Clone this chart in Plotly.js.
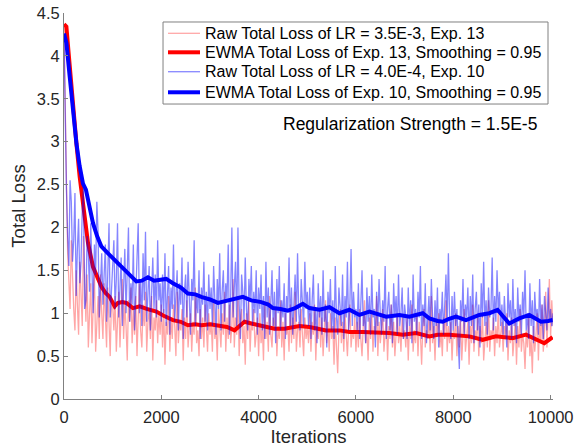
<!DOCTYPE html>
<html>
<head>
<meta charset="utf-8">
<script src="https://cdn.plot.ly/plotly-3.0.1.min.js"></script>
<style>
html,body{margin:0;padding:0;background:#fff;}
#chart{width:578px;height:447px;}
</style>
</head>
<body>
<div id="chart"></div>
<script>
// ---- data ----
var rawStep = 25; // iterations between logged raw losses

var rawLossExp13 = [
  4.35, 3.10, 2.55, 1.70, 1.30, 1.05, 1.85, 1.40, 1.05, 0.80, 1.50, 1.10, 0.75, 1.60, 1.25, 0.85, 1.90, 1.20, 0.90, 1.45,
  0.60, 1.00, 1.35, 0.65, 1.05, 1.50, 0.55, 0.95, 1.20, 0.70, 1.45, 1.00, 0.70, 1.35, 0.95, 0.60, 1.30, 0.85, 0.50, 1.15, 1.10,
  0.80, 1.20, 0.55, 0.95, 1.25, 0.60, 1.00, 1.40, 0.70, 1.10, 0.85, 0.45, 1.15, 0.90, 1.30, 0.65, 1.05, 0.75, 1.20, 0.50,
  0.95, 1.35, 0.80, 0.60, 1.10, 0.85, 1.25, 0.55, 0.90, 1.05, 0.70, 1.20, 0.45, 0.95, 0.80, 1.15, 0.65, 1.00, 0.75, 1.10,
  0.60, 1.05, 0.40, 0.90, 0.75, 1.20, 0.55, 0.95, 0.70, 1.10, 0.85, 0.50, 1.25, 0.65, 0.90, 0.80, 1.05, 0.45, 0.95, 0.70,
  1.15, 0.60, 0.85, 1.00, 0.55, 0.90, 0.75, 1.30, 0.65, 0.80, 0.50, 1.05, 0.70, 0.95, 0.60, 1.10, 0.85, 0.55, 1.00, 0.75,
  0.90, 0.55, 1.15, 0.70, 0.85, 0.45, 1.05, 0.80, 0.60, 1.00, 0.75, 1.25, 0.55, 0.95, 0.70, 1.10, 0.65, 0.85, 1.40, 0.60,
  0.95, 0.75, 1.20, 0.50, 0.90, 1.05, 0.65, 0.85, 0.40, 1.00, 0.70, 1.15, 0.55, 0.90, 0.80, 1.05, 0.60, 0.75, 0.95, 0.50,
  1.00, 0.65, 0.85, 0.45, 1.10, 0.70, 0.90, 0.55, 1.20, 0.75, 0.60, 0.95, 0.80, 1.05, 0.50, 0.85, 0.70, 1.15, 0.60, 0.90,
  0.45, 1.00, 0.75, 0.85, 0.55, 1.10, 0.65, 0.95, 0.70, 1.25, 0.55, 0.80, 0.90, 0.60, 1.05, 0.75, 0.50, 0.95, 0.70, 0.85,
  0.65, 1.00, 0.55, 0.90, 0.75, 1.10, 0.45, 0.85, 0.70, 1.05, 0.60, 0.95, 0.50, 0.80, 1.15, 0.65, 0.90, 0.55, 1.00, 0.70,
  0.85, 0.40, 0.95, 0.60, 0.30, 0.80, 1.05, 0.65, 0.90, 0.55, 1.00, 0.75, 0.50, 0.85, 1.10, 0.60, 0.80, 0.70, 0.95, 0.55,
  0.90, 0.60, 1.05, 0.70, 0.50, 0.85, 1.15, 0.65, 0.80, 0.45, 0.95, 0.70, 1.00, 0.55, 0.85, 0.75, 1.20, 0.50, 0.90, 0.65,
  0.80, 1.05, 0.55, 0.75, 0.95, 0.45, 0.85, 0.70, 1.10, 0.60, 0.90, 0.50, 0.80, 1.00, 0.65, 0.85, 0.55, 0.95, 0.70, 0.80,
  0.60, 0.95, 0.45, 0.85, 0.70, 1.10, 0.55, 0.80, 0.65, 1.00, 0.50, 0.90, 0.75, 0.40, 0.85, 1.05, 0.60, 0.80, 0.70, 0.95,
  0.55, 1.20, 0.65, 0.85, 0.45, 0.90, 0.75, 1.00, 0.60, 0.80, 0.50, 0.95, 0.70, 1.15, 0.55, 0.85, 0.65, 0.90, 0.45, 0.80,
  0.70, 1.00, 0.50, 0.85, 0.60, 0.95, 0.45, 0.80, 1.05, 0.55, 0.75, 0.90, 0.40, 0.85, 0.65, 1.10, 0.55, 0.80, 0.70, 0.95,
  0.50, 0.85, 0.65, 1.00, 0.45, 0.75, 0.90, 0.60, 1.15, 0.55, 0.80, 0.70, 0.95, 0.50, 0.85, 0.65, 1.05, 0.60, 0.75, 0.90,
  0.55, 0.85, 0.70, 1.00, 0.45, 0.80, 0.65, 0.95, 0.50, 0.75, 0.90, 0.40, 0.85, 0.60, 1.05, 0.55, 0.75, 0.65, 0.35, 0.80,
  0.60, 0.95, 0.50, 0.70, 0.30, 0.85, 0.55, 0.75, 1.00, 0.45, 0.90, 0.65, 1.10, 0.55, 0.80, 1.25, 0.60, 0.95, 1.40, 0.70,
  1.15, 0.85
];

var rawLossExp10 = [
  4.25, 3.20, 2.45, 1.90, 1.55, 2.55, 2.30, 1.60, 1.85, 2.40, 1.20, 1.75, 2.10, 1.35, 1.60, 2.20, 2.45, 1.05, 1.15, 1.90,
  1.70, 1.25, 2.05, 1.50, 1.00, 1.80, 1.45, 2.30, 1.95, 0.95, 1.30, 1.70, 1.10, 1.55, 1.80, 0.90, 1.50, 2.05, 0.95, 1.30, 1.65,
  1.85, 1.05, 1.40, 2.05, 0.95, 1.30, 1.65, 0.85, 1.20, 1.75, 1.00, 1.50, 2.00, 0.90, 1.35, 1.10, 1.80, 0.80, 1.25, 1.60,
  2.05, 1.00, 1.40, 0.85, 1.70, 1.15, 1.95, 0.90, 1.30, 1.55, 0.80, 1.25, 1.65, 1.05, 1.45, 0.95, 1.85, 1.15, 1.35, 0.90,
  1.45, 1.00, 1.70, 0.85, 1.25, 1.55, 0.75, 1.30, 1.05, 1.80, 0.90, 1.20, 1.50, 0.80, 1.35, 1.10, 1.65, 0.70, 1.25, 1.45,
  0.95, 1.60, 1.05, 0.75, 1.40, 1.15, 1.85, 0.85, 1.20, 1.00, 1.50, 0.70, 1.30, 1.10, 1.60, 0.90, 1.25, 0.80, 1.45, 1.05,
  1.30, 0.85, 1.55, 1.10, 0.75, 1.40, 1.05, 1.70, 0.80, 1.25, 1.50, 0.90, 1.35, 1.15, 1.80, 0.75, 1.20, 2.00, 0.95, 1.30,
  1.60, 0.85, 2.00, 1.10, 0.70, 1.45, 1.25, 0.90, 1.65, 1.05, 0.80, 1.40, 1.15, 1.55, 0.85, 1.25, 1.00, 1.50, 0.75, 1.30,
  1.05, 1.45, 0.80, 1.20, 0.70, 1.60, 0.95, 1.30, 0.75, 1.10, 1.50, 0.85, 1.25, 0.65, 1.40, 1.00, 1.55, 0.80, 1.15, 0.95,
  1.35, 0.70, 1.20, 1.05, 1.65, 0.85, 1.30, 0.75, 1.10, 1.45, 0.90, 1.70, 1.00, 0.80, 1.40, 1.15, 0.85, 1.60, 1.05, 1.25,
  0.85, 1.30, 0.70, 1.15, 1.45, 0.80, 1.05, 0.65, 1.35, 0.95, 1.20, 0.75, 1.50, 0.90, 1.10, 0.60, 1.25, 1.00, 1.40, 0.80,
  1.15, 0.70, 1.55, 0.95, 0.75, 1.30, 1.05, 0.85, 1.45, 0.70, 1.20, 0.95, 1.60, 0.80, 1.10, 1.75, 0.85, 1.25, 0.95, 1.05,
  0.80, 1.35, 0.70, 1.10, 1.50, 0.85, 1.00, 0.65, 1.30, 0.90, 1.20, 0.75, 1.45, 0.95, 1.05, 0.60, 1.25, 0.85, 1.40, 1.00,
  0.75, 1.15, 0.90, 1.55, 0.70, 1.05, 1.25, 0.80, 1.10, 0.65, 1.35, 0.95, 1.20, 0.75, 1.45, 0.85, 1.00, 1.30, 0.70, 1.10,
  0.95, 0.70, 1.30, 0.85, 1.15, 0.65, 1.45, 0.90, 1.05, 0.75, 1.25, 0.95, 1.55, 0.70, 1.10, 0.85, 1.35, 0.65, 1.00, 1.20,
  0.80, 1.40, 0.95, 0.70, 1.15, 0.85, 1.30, 0.60, 1.05, 0.90, 1.25, 0.75, 1.10, 1.45, 0.85, 1.70, 0.95, 0.70, 1.20, 0.80,
  1.25, 0.85, 1.05, 0.55, 0.35, 1.15, 0.90, 1.40, 0.75, 1.10, 0.95, 1.30, 0.70, 1.20, 0.85, 1.45, 0.65, 1.05, 1.25, 0.80,
  1.10, 0.60, 1.35, 0.95, 1.60, 0.85, 1.15, 0.75, 1.30, 0.95, 1.05, 1.65, 0.80, 1.20, 0.90, 1.50, 1.00, 1.25, 0.85, 1.10,
  0.75, 1.20, 0.90, 0.60, 1.35, 0.95, 1.15, 0.70, 1.40, 0.85, 1.05, 0.65, 1.30, 0.90, 1.10, 0.75, 1.25, 0.95, 1.50, 0.80,
  1.00, 0.70, 1.35, 0.85, 1.15, 0.65, 1.25, 0.95, 1.05, 0.75, 1.40, 0.85, 1.10, 0.70, 1.20, 0.95, 0.80, 1.30, 0.90, 1.05,
  0.85, 1.00
];

var ewmaIterExp13 = [0, 49, 100, 185, 260, 322, 400, 460, 493, 596, 680, 767, 850, 938, 1041, 1109, 1200, 1281, 1417, 1554, 1700, 1897, 2050, 2238, 2400, 2546, 2700, 2821, 3000, 3163, 3350, 3505, 3600, 3710, 3850, 3984, 4150, 4326, 4531, 4700, 4839, 5045, 5200, 5388, 5661, 5866, 6140, 6414, 6688, 6961, 7236, 7509, 7680, 7920, 8100, 8331, 8604, 8879, 9050, 9220, 9495, 9700, 9871, 10041];
var ewmaLossExp13 = [4.37, 4.34, 4.00, 3.37, 2.95, 2.59, 2.20, 1.98, 1.82, 1.54, 1.42, 1.31, 1.24, 1.19, 1.08, 1.12, 1.13, 1.12, 1.06, 1.08, 1.05, 1.02, 0.97, 0.92, 0.90, 0.86, 0.87, 0.86, 0.87, 0.86, 0.84, 0.80, 0.85, 0.90, 0.88, 0.86, 0.84, 0.82, 0.82, 0.83, 0.85, 0.84, 0.82, 0.80, 0.80, 0.78, 0.78, 0.78, 0.77, 0.75, 0.77, 0.73, 0.75, 0.75, 0.74, 0.73, 0.69, 0.73, 0.72, 0.71, 0.75, 0.70, 0.65, 0.72];

var ewmaIterExp10 = [0, 50, 117, 185, 255, 320, 390, 450, 520, 596, 680, 767, 900, 1006, 1178, 1350, 1486, 1600, 1725, 1850, 1965, 2100, 2238, 2400, 2546, 2700, 2821, 3000, 3163, 3368, 3500, 3676, 3848, 4053, 4200, 4292, 4450, 4600, 4750, 4908, 5045, 5250, 5456, 5661, 5866, 6071, 6277, 6450, 6620, 6893, 7099, 7372, 7509, 7680, 7782, 7900, 8057, 8263, 8400, 8536, 8741, 8850, 8912, 9000, 9152, 9250, 9357, 9563, 9700, 9803, 9950, 10041];
var ewmaLossExp10 = [4.26, 4.15, 3.76, 3.35, 2.98, 2.72, 2.51, 2.44, 2.25, 2.05, 1.90, 1.78, 1.70, 1.64, 1.54, 1.44, 1.37, 1.38, 1.42, 1.38, 1.39, 1.40, 1.35, 1.30, 1.23, 1.22, 1.19, 1.16, 1.12, 1.15, 1.16, 1.19, 1.15, 1.13, 1.10, 1.06, 1.05, 1.03, 1.06, 1.11, 1.06, 1.04, 1.07, 1.00, 1.04, 0.98, 1.02, 0.99, 0.96, 0.98, 0.96, 1.00, 0.94, 0.91, 0.90, 0.93, 0.96, 0.92, 0.95, 0.98, 1.00, 1.02, 1.04, 0.98, 0.88, 0.91, 0.94, 0.98, 0.94, 0.90, 0.91, 0.92];

var seriesNames = [
  'Raw Total Loss of LR = 3.5E-3, Exp. 13',
  'EWMA Total Loss of Exp. 13, Smoothing = 0.95',
  'Raw Total Loss of LR = 4.0E-4, Exp. 10',
  'EWMA Total Loss of Exp. 10, Smoothing = 0.95'
];
var xTickVals = [0, 2000, 4000, 6000, 8000, 10000];
var xTickText = ['0', '2000', '4000', '6000', '8000', '10000'];
var yTickVals = [0, 0.5, 1, 1.5, 2, 2.5, 3, 3.5, 4, 4.5];
var annotationText = 'Regularization Strength = 1.5E-5';
var xTitle = 'Iterations';
var yTitle = 'Total Loss';

// ---- build ----
function iters(arr){ return arr.map(function(_, i){ return i * rawStep; }); }

var FONT = 'Liberation Sans, Arial, Helvetica, sans-serif';
var seriesLines = [
  {color: 'rgba(255,0,0,0.35)', width: 1.3},
  {color: '#ff0000', width: 4},
  {color: 'rgba(0,0,255,0.48)', width: 1.3},
  {color: '#0000ff', width: 4}
];
var traces = [
  {x: iters(rawLossExp13), y: rawLossExp13, name: seriesNames[0], mode: 'lines', line: seriesLines[0]},
  {x: ewmaIterExp13, y: ewmaLossExp13, name: seriesNames[1], mode: 'lines', line: seriesLines[1]},
  {x: iters(rawLossExp10), y: rawLossExp10, name: seriesNames[2], mode: 'lines', line: seriesLines[2]},
  {x: ewmaIterExp10, y: ewmaLossExp10, name: seriesNames[3], mode: 'lines', line: seriesLines[3]}
];

var axisCommon = {
  showgrid: false, zeroline: false, showline: true, mirror: false,
  linecolor: '#808080', linewidth: 1,
  ticks: 'inside', ticklen: 4, tickcolor: '#808080', tickwidth: 1,
  tickfont: {family: FONT, size: 16.5, color: '#262626'}
};

// legend box drawn in paper space (compact MATLAB-style spacing)
var legBox = {x0: 0.2025, x1: 0.9898, y0: 0.7642, y1: 0.9767};
var legRows = [0.9474, 0.8982, 0.8479, 0.7946];
var legLineX = [0.2127, 0.2781];
var legTextX = 0.2843;

var shapes = [{
  type: 'rect', xref: 'paper', yref: 'paper',
  x0: legBox.x0, x1: legBox.x1, y0: legBox.y0, y1: legBox.y1,
  line: {color: '#808080', width: 1}, fillcolor: '#ffffff', layer: 'above'
}];
var annotations = [];
seriesNames.forEach(function(name, i){
  shapes.push({
    type: 'line', xref: 'paper', yref: 'paper',
    x0: legLineX[0], x1: legLineX[1], y0: legRows[i], y1: legRows[i],
    line: {color: seriesLines[i].color, width: seriesLines[i].width}, layer: 'above'
  });
  annotations.push({
    xref: 'paper', yref: 'paper', x: legTextX, y: legRows[i],
    xanchor: 'left', yanchor: 'middle', showarrow: false, text: name,
    font: {family: FONT, size: 16, color: '#000'}
  });
});
annotations.push({
  xref: 'paper', yref: 'paper', x: 0.972, y: 0.7124, xanchor: 'right', yanchor: 'middle',
  text: annotationText, showarrow: false,
  font: {family: FONT, size: 17.5, color: '#000'}
});

var layout = {
  width: 578, height: 447,
  margin: {l: 64, r: 25, t: 13, b: 48},
  paper_bgcolor: '#fff', plot_bgcolor: '#fff',
  font: {family: FONT, color: '#262626'},
  showlegend: false,
  xaxis: Object.assign({}, axisCommon, {
    range: [0, 10050], tickvals: xTickVals, ticktext: xTickText, ticklabelstandoff: 3,
    title: {text: xTitle, font: {family: FONT, size: 18.5, color: '#262626'}, standoff: 5}
  }),
  yaxis: Object.assign({}, axisCommon, {
    range: [0, 4.5], tickvals: yTickVals,
    title: {text: yTitle, font: {family: FONT, size: 18.5, color: '#262626'}, standoff: 6}
  }),
  shapes: shapes,
  annotations: annotations
};

Plotly.newPlot('chart', traces, layout, {displayModeBar: false, staticPlot: true});
</script>
</body>
</html>
